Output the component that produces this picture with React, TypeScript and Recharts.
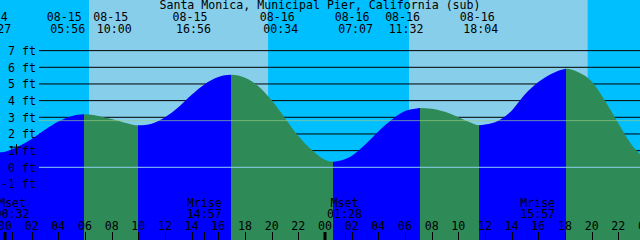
import React from 'react';
import { ComposedChart, Area, XAxis, YAxis, ReferenceArea, ReferenceLine } from 'recharts';

const TITLE = 'Santa Monica, Municipal Pier, California (sub)';

// hours since 08-15 00:00
const X_MIN = -0.375;
const X_MAX = 47.625;
const Y_MIN = -4.362;
const Y_MAX = 10.038;

// tide extremes (read from the header)
const EXTREME_TIMES = [-0.55, 5.933, 10.0, 16.933, 24.567, 31.117, 35.533, 42.067];
const EXTREME_FT = [0.9, 3.18, 2.52, 5.55, 0.33, 3.56, 2.52, 5.91];
const EXTREME_DATES = ['08-14', '08-15', '08-15', '08-15', '08-16', '08-16', '08-16', '08-16'];
const EXTREME_CLOCK = ['23:27', '05:56', '10:00', '16:56', '00:34', '07:07', '11:32', '18:04'];

// hourly tide heights (ft) from hour -1 to hour 48
const HOURLY_START = -1;
const HOURLY_FT = [
  0.93, 0.94, 1.25, 1.7, 2.25, 2.75, 3.07, 3.18, 3.08, 2.9, 2.68, 2.52,
  2.62, 3.0, 3.6, 4.35, 5.0, 5.42, 5.55, 5.37, 4.87, 4.02, 2.95, 1.88,
  1.05, 0.45, 0.38, 0.68, 1.35, 2.15, 2.85, 3.38, 3.55, 3.52, 3.33, 3.0,
  2.66, 2.57, 2.8, 3.4, 4.38, 5.12, 5.62, 5.9, 5.7, 5.15, 4.0, 2.65,
  1.35, 0.5,
];

const SUNRISE = [6.3, 30.3];
const SUNSET = [19.73, 43.7];

const MOON_TIMES = [0.533, 14.95, 25.467, 39.95];
const MOON_EVENTS = ['Mset', 'Mrise', 'Mset', 'Mrise'];
const MOON_CLOCK = ['00:32', '14:57', '01:28', '15:57'];

const HOUR_TICKS = [0, 2, 4, 6, 8, 10, 12, 14, 16, 18, 20, 22, 24, 26, 28, 30, 32, 34, 36, 38, 40, 42, 44, 46, 48];
const FT_TICKS = [-1, 0, 1, 2, 3, 4, 5, 6, 7];
const GRID_FT = [1, 2, 3, 4, 5, 6, 7];
const MSL_FT = 2.8;
const DATUM_FT = 0;

const NIGHT = '#00BFFF';
const DAY = '#87CEEB';
const FLOOD = '#0000FF';
const EBB = '#2E8B57';
const FONT = '"DejaVu Sans Mono", monospace';
const FS = 11.6;
const W = 640;
const H = 240;
const GRID_X0 = X_MIN + (39 / W) * (X_MAX - X_MIN);

function buildTable() {
  const rows: { t: number; ft: number }[] = [];
  HOURLY_FT.forEach((ft, i) => {
    const t = HOURLY_START + i;
    if (EXTREME_TIMES.some((e) => Math.abs(e - t) < 0.05)) return;
    rows.push({ t, ft });
  });
  EXTREME_TIMES.forEach((t, i) => rows.push({ t, ft: EXTREME_FT[i] }));
  rows.sort((a, b) => a.t - b.t);
  return rows;
}

const table = buildTable();

function buildStops() {
  const isHigh = EXTREME_FT.map(
    (v, i) =>
      v > (i > 0 ? EXTREME_FT[i - 1] : -Infinity) &&
      v > (i < EXTREME_FT.length - 1 ? EXTREME_FT[i + 1] : -Infinity)
  );
  const tMin = table[0].t;
  const tMax = table[table.length - 1].t;
  const bounds = [tMin, ...EXTREME_TIMES, tMax];
  const stops: { off: number; color: string }[] = [];
  for (let s = 0; s < bounds.length - 1; s++) {
    const rising = s < EXTREME_TIMES.length ? isHigh[s] : !isHigh[EXTREME_TIMES.length - 1];
    const color = rising ? FLOOD : EBB;
    stops.push({ off: (bounds[s] - tMin) / (tMax - tMin), color });
    stops.push({ off: (bounds[s + 1] - tMin) / (tMax - tMin), color });
  }
  return stops;
}

const stops = buildStops();

const nightBands: [number, number][] = [
  [X_MIN, SUNRISE[0]],
  [SUNSET[0], SUNRISE[1]],
  [SUNSET[1], X_MAX],
];
const dayBands: [number, number][] = [
  [SUNRISE[0], SUNSET[0]],
  [SUNRISE[1], SUNSET[1]],
];

const BOTTOM_TICKS = [...HOUR_TICKS, ...MOON_TIMES].sort((a, b) => a - b);

const txt = { fontFamily: FONT, fontSize: FS, fill: '#000' } as const;

function BottomTick(props: any) {
  const { x, payload } = props;
  const v = payload.value as number;
  const mi = MOON_TIMES.indexOf(v);
  const isHour = HOUR_TICKS.includes(v);
  const midnight = isHour && v % 24 === 0;
  const px = Math.round(x) + (midnight ? 0 : 0.5);
  return (
    <g>
      <line x1={px} x2={px} y1={H} y2={H - 8} stroke="#000" strokeWidth={midnight ? 3 : 1} />
      {isHour && (
        <text {...txt} x={x} y={230} textAnchor="middle">
          {String(v % 24).padStart(2, '0')}
        </text>
      )}
      {mi >= 0 && (
        <>
          <text {...txt} x={x} y={206.5} textAnchor="middle">
            {MOON_EVENTS[mi]}
          </text>
          <text {...txt} x={x} y={218} textAnchor="middle">
            {MOON_CLOCK[mi]}
          </text>
        </>
      )}
    </g>
  );
}

function TopTick(props: any) {
  const { x, payload } = props;
  const i = EXTREME_TIMES.indexOf(payload.value);
  if (i < 0) return <g />;
  return (
    <g>
      <text {...txt} x={x - 3.5} y={21.3} textAnchor="middle">
        {EXTREME_DATES[i]}
      </text>
      <text {...txt} x={x} y={33} textAnchor="middle">
        {EXTREME_CLOCK[i]}
      </text>
    </g>
  );
}

function FtTick(props: any) {
  const { y, payload } = props;
  const v = payload.value as number;
  return (
    <g>
      <text {...txt} x={36} y={y + 4.2} textAnchor="end">
        {`${v} ft`}
      </text>
      {v === 1 && (
        <g stroke="#000" strokeWidth={1}>
          <line x1={10} x2={21} y1={y - 3.5} y2={y - 3.5} />
          <line x1={16.5} x2={16.5} y1={y - 6.5} y2={y + 4} />
        </g>
      )}
    </g>
  );
}

export default function App() {
  return (
    <div style={{ position: 'absolute', left: 0, top: 0, width: W, height: H, overflow: 'hidden', background: NIGHT }}>
      <svg width={0} height={0} style={{ position: 'absolute' }}>
        <defs>
          <linearGradient id="tideFill" x1="0" y1="0" x2="1" y2="0">
            {stops.map((s, i) => (
              <stop key={i} offset={s.off} stopColor={s.color} />
            ))}
          </linearGradient>
        </defs>
      </svg>
      <ComposedChart width={W} height={H} data={table} margin={{ top: 0, right: 0, bottom: 0, left: 0 }}>
        {nightBands.map(([a, b], i) => (
          <ReferenceArea key={`n${i}`} x1={a} x2={b} fill={NIGHT} fillOpacity={1} stroke="none" ifOverflow="hidden" zIndex={-300} />
        ))}
        {dayBands.map(([a, b], i) => (
          <ReferenceArea key={`d${i}`} x1={a} x2={b} fill={DAY} fillOpacity={1} stroke="none" ifOverflow="hidden" zIndex={-300} />
        ))}
        {GRID_FT.map((v) => (
          <ReferenceLine
            key={`g${v}`}
            segment={[{ x: GRID_X0, y: v }, { x: X_MAX, y: v }]}
            stroke="#000"
            strokeWidth={1}
            ifOverflow="hidden"
            zIndex={-200}
          />
        ))}
        <XAxis
          type="number"
          dataKey="t"
          domain={[X_MIN, X_MAX]}
          allowDataOverflow
          orientation="bottom"
          mirror
          ticks={BOTTOM_TICKS}
          interval={0}
          tick={BottomTick}
          tickLine={false}
          axisLine={false}
        />
        <XAxis
          xAxisId="top"
          type="number"
          domain={[X_MIN, X_MAX]}
          allowDataOverflow
          orientation="top"
          mirror
          ticks={EXTREME_TIMES}
          interval={0}
          tick={TopTick}
          tickLine={false}
          axisLine={false}
        />
        <YAxis
          type="number"
          domain={[Y_MIN, Y_MAX]}
          allowDataOverflow
          orientation="left"
          mirror
          ticks={FT_TICKS}
          interval={0}
          tick={FtTick}
          tickLine={false}
          axisLine={false}
        />
        <Area
          dataKey="ft"
          type="monotone"
          fill="url(#tideFill)"
          fillOpacity={1}
          stroke="none"
          baseValue={Y_MIN}
          dot={false}
          activeDot={false}
          isAnimationActive={false}
          zIndex={100}
        />
        <ReferenceLine
          segment={[{ x: GRID_X0, y: MSL_FT }, { x: X_MAX, y: MSL_FT }]}
          stroke="#9ACD8A"
          strokeOpacity={0.65}
          strokeWidth={1}
          ifOverflow="hidden"
          zIndex={300}
        />
        <ReferenceLine
          segment={[{ x: GRID_X0, y: DATUM_FT }, { x: X_MAX, y: DATUM_FT }]}
          stroke="#8FD0F0"
          strokeWidth={1}
          ifOverflow="hidden"
          zIndex={300}
        />
      </ComposedChart>
      <svg width={W} height={24} style={{ position: 'absolute', left: 0, top: 0, pointerEvents: 'none' }}>
        <text {...txt} x={W / 2} y={9.3} textAnchor="middle">
          {TITLE}
        </text>
      </svg>
    </div>
  );
}
